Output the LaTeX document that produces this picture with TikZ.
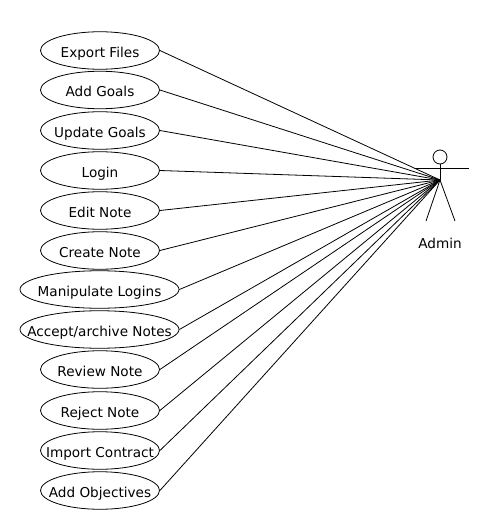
\documentclass[tikz,border=0pt]{standalone}
\usepackage{fontspec}
\setmainfont{DejaVu Sans}
\usetikzlibrary{shapes.geometric}
\tikzset{
	usecase/.style={draw, ellipse, inner xsep=-30pt, inner ysep=-5pt, minimum width=119pt, minimum height=37.5pt, line width=.8pt, text height=13pt, text depth=0pt, font=\fontsize{13.6}{15}\selectfont},
	widecase/.style={usecase, minimum width=159pt},
	link/.style={line width=.8pt},
}
\begin{document}
\begin{tikzpicture}[x=1pt, y=-1pt]
		\def\xa{100}
		\def\xb{99.5}
		\useasboundingbox (0,0) rectangle (500,530);
		% the use cases
		\node[usecase] (export) at (\xa,50.5) {Export Files};
		\node[usecase] (addgoals) at (\xa,90) {Add Goals};
		\node[usecase] (update) at (\xa,130.5) {Update Goals};
		\node[usecase] (login) at (\xa,170.5) {Login};
		\node[usecase] (edit) at (\xa,210.5) {Edit Note};
		\node[usecase] (create) at (\xa,250.5) {Create Note};
		\node[widecase] (manipulate) at (\xb,289.5) {Manipulate Logins};
		\node[widecase] (accept) at (\xb,329.5) {Accept/archive Notes};
		\node[usecase] (review) at (\xa,369.5) {Review Note};
		\node[usecase] (reject) at (\xa,410.5) {Reject Note};
		\node[usecase] (import) at (\xa,450.5) {Import Contract};
		\node[usecase] (objectives) at (\xa,490.5) {Add Objectives};
		% the actor
		\node[draw, circle, inner sep=0pt, minimum size=14pt, line width=.8pt] (head) at (440,157) {};
		\coordinate (hip) at (440,180);
		\coordinate (handl) at (415,168);
		\coordinate (handr) at (469,168);
		\coordinate (footl) at (426,221);
		\coordinate (footr) at (455,221);
		\draw[link] (head) -- (hip);
		\draw[link] (handl) -- (handr);
		\draw[link] (footl) -- (hip) -- (footr);
		\node[font=\fontsize{13.6}{15}\selectfont] (admin) at (440,243) {Admin};
		% the associations
		\draw[link] (export.east) -- (hip);
		\draw[link] (addgoals.east) -- (hip);
		\draw[link] (update.east) -- (hip);
		\draw[link] (login.east) -- (hip);
		\draw[link] (edit.east) -- (hip);
		\draw[link] (create.east) -- (hip);
		\draw[link] (manipulate.east) -- (hip);
		\draw[link] (accept.east) -- (hip);
		\draw[link] (review.east) -- (hip);
		\draw[link] (reject.east) -- (hip);
		\draw[link] (import.east) -- (hip);
		\draw[link] (objectives.east) -- (hip);
	\end{tikzpicture}
\end{document}
